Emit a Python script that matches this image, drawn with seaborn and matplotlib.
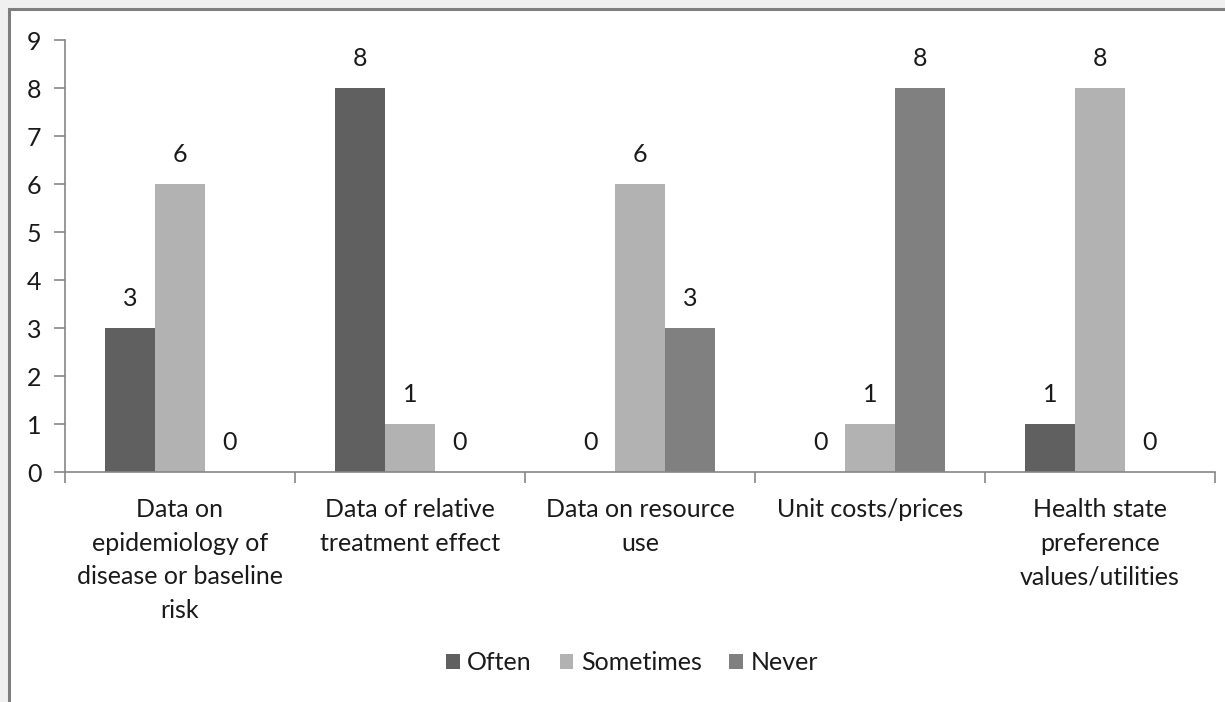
import matplotlib
matplotlib.use("Agg")
import matplotlib.pyplot as plt
from matplotlib.patches import Rectangle
import pandas as pd
import seaborn as sns

categories = [
    "Data on\nepidemiology of\ndisease or baseline\nrisk",
    "Data of relative\ntreatment effect",
    "Data on resource\nuse",
    "Unit costs/prices",
    "Health state\npreference\nvalues/utilities",
]
series_names = ["Often", "Sometimes", "Never"]
often = [3, 8, 0, 0, 1]
sometimes = [6, 1, 6, 1, 8]
never = [0, 0, 3, 8, 0]
y_ticks = list(range(0, 10))

colors = {"Often": "#606060", "Sometimes": "#b2b2b2", "Never": "#808080"}

rows = []
for name, vals in zip(series_names, [often, sometimes, never]):
    for cat, v in zip(categories, vals):
        rows.append({"category": cat, "series": name, "value": v})
df = pd.DataFrame(rows)

sns.set_style("white")
plt.rcParams["font.family"] = ["Lato", "DejaVu Sans"]
FS = 18

W, H = 1225, 702
fig = plt.figure(figsize=(W / 100, H / 100), dpi=100, facecolor="#f0f0f0")
# white chart panel with a gray frame on the left and top
fig.patches.append(Rectangle((9 / W, -0.1), 1.2, 1 - 9 / H + 0.1,
                             transform=fig.transFigure, facecolor="white",
                             edgecolor="#7f7f7f", linewidth=2.2, zorder=-5))

ax = fig.add_axes([65 / W, 1 - 472 / H, (1215 - 65) / W, (472 - 40) / H])
ax.set_facecolor("none")

sns.barplot(data=df, x="category", y="value", hue="series",
            hue_order=series_names, palette=colors, width=0.652,
            linewidth=0, saturation=1, ax=ax, legend=True)

for cont in ax.containers:
    labels = [f"{int(b.get_height())}" for b in cont]
    ax.bar_label(cont, labels=labels, padding=13, fontsize=FS, color="#1a1a1a")

ax.set_ylim(0, 9)
ax.set_yticks(y_ticks)
ax.set_xlim(-0.5, len(categories) - 0.5)
ax.set_xlabel("")
ax.set_ylabel("")

for s in ["top", "right"]:
    ax.spines[s].set_visible(False)
for s in ["left", "bottom"]:
    ax.spines[s].set_color("#868686")
    ax.spines[s].set_linewidth(1.2)

ax.tick_params(axis="y", which="major", left=True, length=8, width=1.2,
               color="#868686", labelsize=FS, labelcolor="#1a1a1a", pad=9)
# category boundaries carry the x tick marks
ax.set_xticks([i - 0.5 for i in range(len(categories) + 1)], minor=True)
ax.tick_params(axis="x", which="minor", bottom=True, length=8, width=1.2,
               color="#868686")
ax.tick_params(axis="x", which="major", bottom=False, labelsize=FS,
               labelcolor="#1a1a1a", pad=15)
for lbl in ax.get_xticklabels():
    lbl.set_linespacing(1.57)
    lbl.set_verticalalignment("top")

handles, labs = ax.get_legend_handles_labels()
ax.legend_.remove()
fig.legend(handles, labs, loc="center", bbox_to_anchor=(632 / W, 1 - 663 / H),
           ncol=3, frameon=False, fontsize=FS, handlelength=0.55,
           handleheight=0.55, handletextpad=0.3, columnspacing=1.1,
           labelcolor="#1a1a1a")

fig.savefig("out.png", dpi=100, facecolor=fig.get_facecolor())
